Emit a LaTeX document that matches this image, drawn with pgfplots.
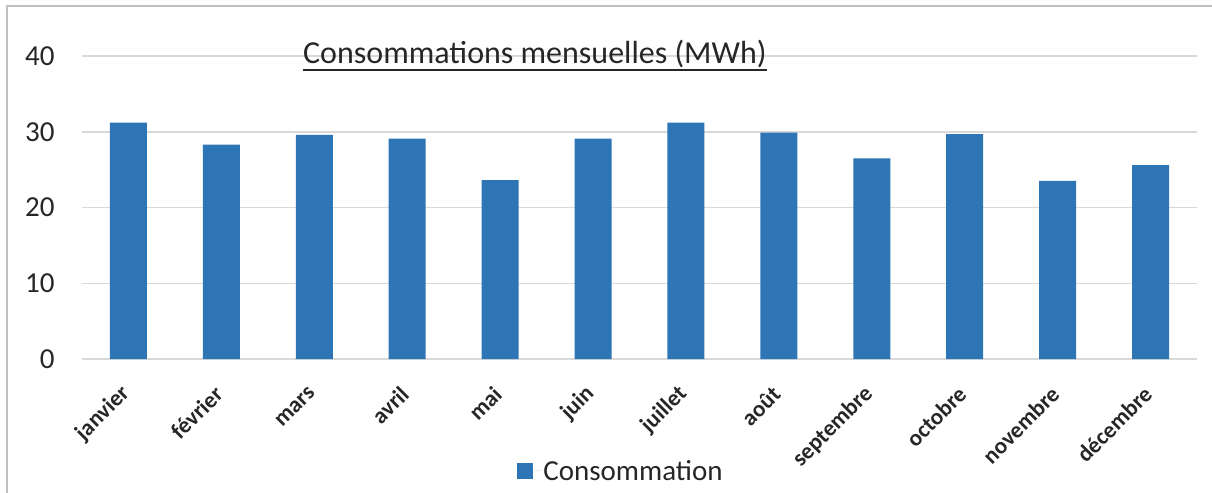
\documentclass[border=0pt]{standalone}
\usepackage{pgfplots}
\pgfplotsset{compat=1.18}
\usepackage{fontspec}
\setmainfont{Carlito}
\definecolor{barblue}{HTML}{2E75B6}
\definecolor{gridgray}{HTML}{D9D9D9}
\definecolor{framegray}{HTML}{C0C0C0}
\definecolor{txt}{HTML}{262626}
\begin{document}
\begin{tikzpicture}
\path[use as bounding box] (-82bp,-134bp) rectangle (1130bp,359bp);
\draw[framegray, line width=2bp] (-75bp,-140bp) -- (-75bp,353bp) -- (1140bp,353bp);
\begin{axis}[
  at={(0,0)}, anchor=south west,
  scale only axis, width=1115bp, height=303bp,
  clip=false,
  xmin=-0.5, xmax=11.5, ymin=0, ymax=40,
  ytick={0,10,20,30,40},
  xtick={0,...,11},
  xticklabels={janvier,février,mars,avril,mai,juin,juillet,août,septembre,octobre,novembre,décembre},
  axis line style={draw=none},
  major tick length=0pt,
  ymajorgrids, grid style={gridgray, line width=1.5bp},
  /pgf/number format/assume math mode=true,
  yticklabel style={font=\fontsize{29bp}{33bp}\selectfont, text=txt, xshift=-24bp},
  xticklabel style={font=\fontsize{23bp}{27bp}\selectfont\bfseries, text=txt, xshift=0bp, yshift=-29bp, rotate=45, anchor=east},
  ybar, bar width=37bp,
  legend style={at={(0.4834,-0.3696)}, anchor=center, draw=none, fill=none, font=\fontsize{29bp}{33bp}\selectfont, text=txt},
  legend image code/.code={\fill[barblue] (0bp,-8bp) rectangle (16bp,8bp); \path (0bp,0bp) -- (24bp,0bp);},
]
\addplot[fill=barblue, draw=none] coordinates {
(0,31.2) (1,28.3) (2,29.6) (3,29.1) (4,23.6) (5,29.1) (6,31.2) (7,29.9) (8,26.5) (9,29.7) (10,23.5) (11,25.6)
};
\legend{Consommation}
\node[anchor=base west, inner sep=0, font=\fontsize{32bp}{36bp}\selectfont, text=txt] (t) at (axis description cs:0.1982,0.9769) {Consommations mensuelles (MWh)};
\draw[txt, line width=1.5bp] ([yshift=-7bp]t.base west) -- ([yshift=-7bp]t.base east);
\end{axis}
\end{tikzpicture}
\end{document}
